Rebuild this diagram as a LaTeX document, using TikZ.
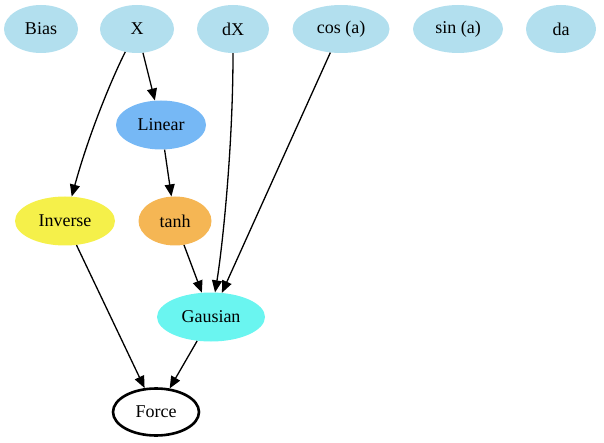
\documentclass[tikz,border=0pt]{standalone}
\usepackage{fontspec}
\setmainfont{Liberation Serif}
\usetikzlibrary{arrows.meta,shapes.geometric}
\definecolor{lb}{HTML}{B2DFEE}
\definecolor{linc}{HTML}{76B8F5}
\definecolor{invc}{HTML}{F5F04A}
\definecolor{tanc}{HTML}{F5B654}
\definecolor{gauc}{HTML}{6AF5F0}
\begin{document}
\begin{tikzpicture}[x=1pt,y=-1pt,
  nd/.style={ellipse,inner sep=0pt,font=\fontsize{18}{21}\selectfont},
  inp/.style={nd,fill=lb},
  edge/.style={-{Triangle[length=12pt,width=10pt]},line width=1.3pt,black}]
\useasboundingbox (0,0) rectangle (604,443);
\node[inp,minimum width=74pt,minimum height=48pt] (bias) at (41,29) {Bias};
\node[inp,minimum width=74pt,minimum height=48pt] (x) at (137,29) {X};
\node[inp,minimum width=72pt,minimum height=48pt] (dx) at (233,29) {dX};
\node[inp,minimum width=97pt,minimum height=48pt] (cos) at (341,29) {cos (a)};
\node[inp,minimum width=90pt,minimum height=48pt] (sin) at (458,29) {sin (a)};
\node[inp,minimum width=70pt,minimum height=48pt] (da) at (561,29) {da};
\node[nd,fill=linc,minimum width=90pt,minimum height=49pt] (lin) at (161,125) {Linear};
\node[nd,fill=invc,minimum width=100pt,minimum height=49pt] (inv) at (65,221) {Inverse};
\node[nd,fill=tanc,minimum width=73pt,minimum height=49pt] (tanh) at (175,221) {tanh};
\node[nd,fill=gauc,minimum width=108pt,minimum height=49pt] (gau) at (211,317) {Gausian};
\node[nd,draw=black,line width=2.6pt,minimum width=86pt,minimum height=47pt] (force) at (156,412) {Force};
\draw[edge] (x) -- (lin);
\draw[edge] (x) .. controls (114,74) and (90,130) .. (inv);
\draw[edge] (dx) .. controls (233,150) and (222,250) .. (gau);
\draw[edge] (cos) -- (gau);
\draw[edge] (lin) -- (tanh);
\draw[edge] (tanh) -- (gau);
\draw[edge] (inv) -- (force);
\draw[edge] (gau) -- (force);
\end{tikzpicture}
\end{document}
